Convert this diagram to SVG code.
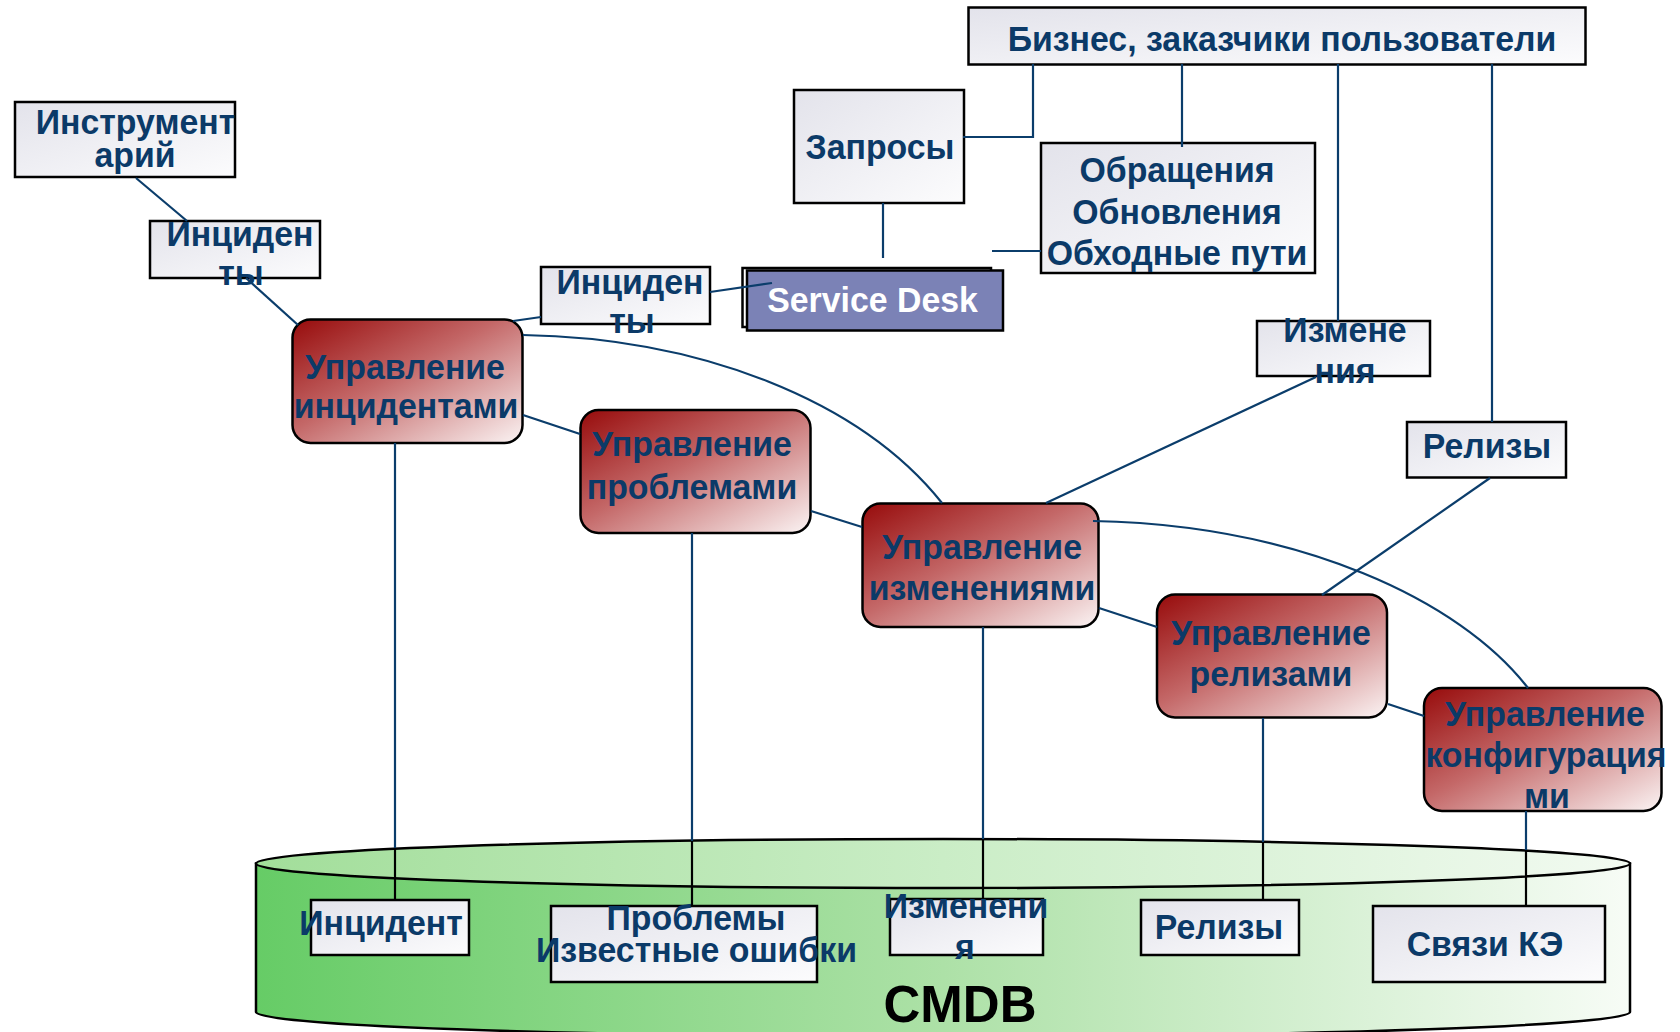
<svg xmlns="http://www.w3.org/2000/svg" width="1680" height="1032" viewBox="0 0 1680 1032">
  <defs>
    <linearGradient id="boxFill" x1="0" y1="0" x2="1" y2="1">
      <stop offset="0" stop-color="#E3E3EB"/>
      <stop offset="1" stop-color="#FCFCFD"/>
    </linearGradient>
    <linearGradient id="procFill" x1="0" y1="0" x2="1" y2="1">
      <stop offset="0" stop-color="#970B0B"/>
      <stop offset="0.45" stop-color="#C46868"/>
      <stop offset="1" stop-color="#FBF4F4"/>
    </linearGradient>
    <linearGradient id="dbBody" x1="0" y1="0" x2="1" y2="0">
      <stop offset="0" stop-color="#66CC66"/>
      <stop offset="0.5" stop-color="#ADE1A7"/>
      <stop offset="1" stop-color="#F7FCF6"/>
    </linearGradient>
    <linearGradient id="dbTop" x1="0" y1="0" x2="1" y2="0">
      <stop offset="0" stop-color="#A2DE9A"/>
      <stop offset="0.5" stop-color="#CAEDC6"/>
      <stop offset="1" stop-color="#F2FAF1"/>
    </linearGradient>
  </defs>
  <style>
    .box { fill: url(#boxFill); stroke: #000; stroke-width: 2.5; }
    .proc { fill: url(#procFill); stroke: #000; stroke-width: 2.5; }
    .lbl { font-family: "Liberation Sans", Arial, sans-serif; font-weight: bold; font-size: 36px; fill: #0B3A68; text-anchor: middle;
           transform: scaleX(0.94); transform-box: fill-box; transform-origin: center; }
    .white { fill: #FFFFFF; }
    .link { fill: none; stroke: #0B3D6B; stroke-width: 2.2; }
    .inner { fill: none; stroke: #000; stroke-width: 2.2; }
  </style>

  <!-- configuration database cylinder -->
  <g id="cmdb">
    <path d="M256,863.5 V1012 A687,24.5 0 0 0 1630,1012 V863.5 Z" fill="url(#dbBody)" stroke="#000" stroke-width="2.5"/>
    <ellipse cx="943" cy="863.5" rx="687" ry="24.5" fill="url(#dbTop)" stroke="#000" stroke-width="2.5"/>
    <text x="960" y="1022" style="font-family:'Liberation Sans',Arial,sans-serif;font-weight:bold;font-size:51px;fill:#000;text-anchor:middle">CMDB</text>
  </g>

  <!-- top-level boxes -->
  <g id="business">
    <rect class="box" x="968.5" y="7.5" width="617" height="57"/>
    <text class="lbl" x="1282" y="51.5">Бизнес, заказчики пользователи</text>
  </g>
  <g id="requests">
    <rect class="box" x="794" y="90" width="170" height="113"/>
    <text class="lbl" x="880" y="159">Запросы</text>
  </g>
  <g id="calls">
    <rect class="box" x="1041" y="143" width="274" height="130"/>
    <text class="lbl" x="1177" y="182.5">Обращения</text>
    <text class="lbl" x="1177" y="224">Обновления</text>
    <text class="lbl" x="1177" y="265">Обходные пути</text>
  </g>
  <g id="service-desk">
    <rect x="742.5" y="268" width="248.5" height="59" fill="none" stroke="#000" stroke-width="2.5"/>
    <rect x="747" y="270.5" width="256" height="60" fill="#7B82B6" stroke="#000" stroke-width="2.5"/>
    <text class="lbl white" x="872.5" y="312.5">Service Desk</text>
  </g>
  <g id="changes-in">
    <rect class="box" x="1257" y="321" width="173" height="55"/>
    <text class="lbl" x="1345" y="342.5">Измене</text>
    <text class="lbl" x="1345" y="383.5">ния</text>
  </g>
  <g id="releases-in">
    <rect class="box" x="1407" y="422" width="159" height="55.5"/>
    <text class="lbl" x="1487" y="458">Релизы</text>
  </g>
  <g id="tools">
    <rect class="box" x="15" y="102" width="220" height="75"/>
    <text class="lbl" x="135.5" y="134">Инструмент</text>
    <text class="lbl" x="135" y="167">арий</text>
  </g>
  <g id="incidents-tools">
    <rect class="box" x="150" y="221" width="170" height="57"/>
    <text class="lbl" x="240" y="246.5">Инциден</text>
    <text class="lbl" x="241" y="285">ты</text>
  </g>
  <g id="incidents-desk">
    <rect class="box" x="541" y="267" width="169" height="57"/>
    <text class="lbl" x="630" y="294.5">Инциден</text>
    <text class="lbl" x="632" y="333.5">ты</text>
  </g>

  <!-- management processes -->
  <g id="incident-mgmt">
    <rect class="proc" x="292.5" y="319.5" width="230" height="123.5" rx="18"/>
    <text class="lbl" x="405" y="379.5">Управление</text>
    <text class="lbl" x="406" y="418.5">инцидентами</text>
  </g>
  <g id="problem-mgmt">
    <rect class="proc" x="580.5" y="410" width="230" height="123" rx="18"/>
    <text class="lbl" x="692" y="456.5">Управление</text>
    <text class="lbl" x="692" y="499">проблемами</text>
  </g>
  <g id="change-mgmt">
    <rect class="proc" x="862.5" y="503.5" width="236" height="123.5" rx="18"/>
    <text class="lbl" x="982" y="559">Управление</text>
    <text class="lbl" x="982" y="600">изменениями</text>
  </g>
  <g id="release-mgmt">
    <rect class="proc" x="1157" y="594.5" width="230" height="123" rx="18"/>
    <text class="lbl" x="1271" y="645">Управление</text>
    <text class="lbl" x="1271" y="686.5">релизами</text>
  </g>
  <g id="config-mgmt">
    <rect class="proc" x="1424" y="688" width="237.5" height="123" rx="18"/>
    <text class="lbl" x="1545" y="726.5">Управление</text>
    <text class="lbl" x="1546" y="767.5">конфигурация</text>
    <text class="lbl" x="1547" y="808.5">ми</text>
  </g>

  <!-- records kept in the CMDB -->
  <g id="rec-incident">
    <rect class="box" x="311" y="900" width="158" height="55"/>
    <text class="lbl" x="381" y="935">Инцидент</text>
  </g>
  <g id="rec-problems">
    <rect class="box" x="551" y="906" width="266" height="76"/>
    <text class="lbl" x="696" y="930">Проблемы</text>
    <text class="lbl" x="696.5" y="962.5">Известные ошибки</text>
  </g>
  <g id="rec-changes">
    <rect class="box" x="890" y="899" width="153" height="56"/>
    <text class="lbl" x="966" y="918.5">Изменени</text>
    <text class="lbl" x="965" y="959">я</text>
  </g>
  <g id="rec-releases">
    <rect class="box" x="1141" y="900" width="158" height="55"/>
    <text class="lbl" x="1219" y="939">Релизы</text>
  </g>
  <g id="rec-ci">
    <rect class="box" x="1373" y="906" width="232" height="76"/>
    <text class="lbl" x="1485" y="956.5">Связи КЭ</text>
  </g>

  <!-- connectors -->
  <g id="connectors">
    <path class="link" d="M1033,64 V137 H963"/>
    <path class="link" d="M1182,64 V147"/>
    <path class="link" d="M1338,64 V321"/>
    <path class="link" d="M1492,64 V422"/>
    <path class="link" d="M883,203 V258"/>
    <path class="link" d="M992,251 H1041"/>
    <path class="link" d="M710,292 L772,283"/>
    <path class="link" d="M513,321 L541,317"/>
    <path class="link" d="M136,178 L187,221"/>
    <path class="link" d="M246,278 L298,325"/>
    <path class="link" d="M523,415 L580,434"/>
    <path class="link" d="M811,511 L862,527"/>
    <path class="link" d="M1099,608 L1157,627"/>
    <path class="link" d="M1388,704 L1424,716"/>
    <path class="link" d="M523,335 C700,338 860,400 942,503"/>
    <path class="link" d="M1093,521 C1300,525 1460,600 1528,688"/>
    <path class="link" d="M1316,377 L1046,503"/>
    <path class="link" d="M1490,478 L1322,595"/>
    <!-- drops into the database: blue above the rim, black inside -->
    <path class="link" d="M395,443 V848"/>
    <path class="inner" d="M395,848 V900"/>
    <path class="link" d="M692,533 V841"/>
    <path class="inner" d="M692,841 V906"/>
    <path class="link" d="M983,627 V839"/>
    <path class="inner" d="M983,839 V899"/>
    <path class="link" d="M1263,718 V842"/>
    <path class="inner" d="M1263,842 V900"/>
    <path class="link" d="M1526,811 V850"/>
    <path class="inner" d="M1526,850 V906"/>
  </g>
</svg>
